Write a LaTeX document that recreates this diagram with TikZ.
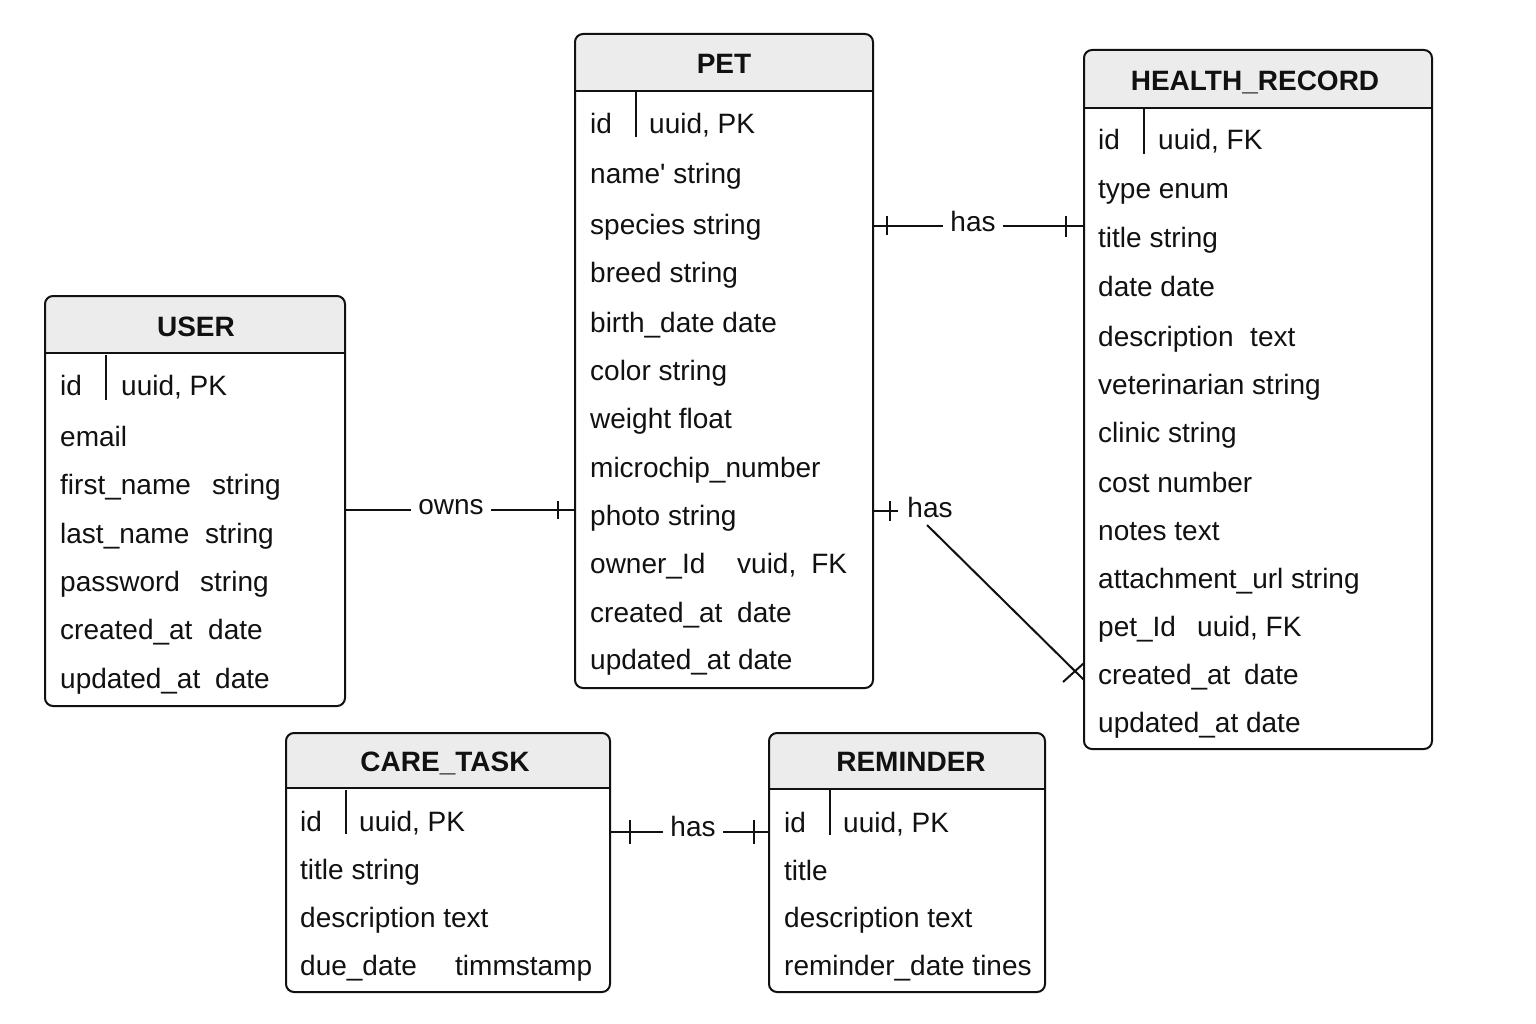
\documentclass[tikz,border=0pt]{standalone}
\usepackage{fontspec}
\setmainfont{Liberation Sans}
\newfontfamily\rawfont{Liberation Sans}
\usetikzlibrary{fit}
\definecolor{hdrgray}{HTML}{ECECEC}
\definecolor{ink}{HTML}{111111}
\tikzset{
  tblbox/.style={draw=ink, line width=2pt, rounded corners=8pt, inner sep=0pt, fill=none},
  tblline/.style={draw=ink, line width=2pt},
  sepline/.style={draw=ink, line width=2pt},
  fld/.style={anchor=west, inner sep=0pt, text height=20pt, text depth=0pt, text=ink, font=\fontsize{28}{34}\selectfont},
  ttl/.style={inner sep=0pt, text height=20pt, text depth=0pt, text=ink, font=\fontsize{28}{34}\selectfont\bfseries},
  rel/.style={inner xsep=7pt, inner ysep=2pt, text=ink, font=\fontsize{28}{34}\selectfont},
  conn/.style={draw=ink, line width=2pt},
  tick/.style={draw=ink, line width=2pt},
}
\newcommand{\erbox}[6]{%
  \coordinate (#1-a) at (#2,#3);
  \coordinate (#1-b) at (#4,#5);
  \begin{scope}
    \clip[rounded corners=8pt] (#2,#3) rectangle (#4,#5);
    \fill[hdrgray] (#2,#3) rectangle (#4,#6);
  \end{scope}
  \node[tblbox, fit=(#1-a)(#1-b)] (#1) {};
  \draw[tblline] (#2,#6) -- (#4,#6);
}
\begin{document}
\begin{tikzpicture}[x=1pt,y=-1pt]
\useasboundingbox (0,0) rectangle (1536,1024);
\fill[white] (0,0) rectangle (1536,1024);

% ---------- USER ----------
\erbox{user}{45}{296}{345}{706}{353}
\node[ttl] (user-t) at (196,326) {USER};
\draw[sepline] (106,355) -- (106,400);
\node[fld] (u1) at (60,385) {id};
\node[fld] (u1t) at (121,385) {uuid, PK};
\node[fld] (u2) at (60,436) {email};
\node[fld] (u3) at (60,484) {first\_name};
\node[fld] (u3t) at (212,484) {string};
\node[fld] (u4) at (60,533) {last\_name};
\node[fld] (u4t) at (205,533) {string};
\node[fld] (u5) at (60,581) {password};
\node[fld] (u5t) at (200,581) {string};
\node[fld] (u6) at (60,629) {created\_at};
\node[fld] (u6t) at (208,629) {date};
\node[fld] (u7) at (60,678) {updated\_at};
\node[fld] (u7t) at (215,678) {date};

% ---------- PET ----------
\erbox{pet}{575}{34}{873}{688}{91}
\node[ttl] (pet-t) at (724,64) {PET};
\draw[sepline] (636,92) -- (636,137);
\node[fld] (p1) at (590,124) {id};
\node[fld] (p1t) at (649,124) {uuid, PK};
\node[fld] (p2) at (590,174) {\rawfont name' string};
\node[fld] (p3) at (590,225) {species string};
\node[fld] (p4) at (590,273) {breed string};
\node[fld] (p5) at (590,322) {birth\_date date};
\node[fld] (p6) at (590,370) {color string};
\node[fld] (p7) at (590,418) {weight float};
\node[fld] (p8) at (590,467) {microchip\_number};
\node[fld] (p9) at (590,515) {photo string};
\node[fld] (p10) at (590,563) {owner\_Id};
\node[fld] (p10t) at (737,563) {vuid,\hspace{15pt}FK};
\node[fld] (p11) at (590,612) {created\_at};
\node[fld] (p11t) at (737,612) {date};
\node[fld] (p12) at (590,659) {updated\_at date};

% ---------- HEALTH_RECORD ----------
\erbox{hr}{1084}{50}{1432}{749}{108}
\node[ttl] (hr-t) at (1255,81) {HEALTH\_RECORD};
\draw[sepline] (1144,109) -- (1144,154);
\node[fld] (h1) at (1098,140) {id};
\node[fld] (h1t) at (1158,140) {uuid, FK};
\node[fld] (h2) at (1098,189) {type enum};
\node[fld] (h3) at (1098,238) {title string};
\node[fld] (h4) at (1098,287) {date date};
\node[fld] (h5) at (1098,336) {description};
\node[fld] (h5t) at (1250,336) {text};
\node[fld] (h6) at (1098,384) {veterinarian string};
\node[fld] (h7) at (1098,432) {clinic string};
\node[fld] (h8) at (1098,482) {cost number};
\node[fld] (h9) at (1098,530) {notes text};
\node[fld] (h10) at (1098,578) {attachment\_url string};
\node[fld] (h11) at (1098,626) {pet\_Id};
\node[fld] (h11t) at (1197,626) {uuid, FK};
\node[fld] (h12) at (1098,674) {created\_at};
\node[fld] (h12t) at (1244,674) {date};
\node[fld] (h13) at (1098,722) {updated\_at date};

% ---------- CARE_TASK ----------
\erbox{ct}{286}{733}{610}{992}{788}
\node[ttl] (ct-t) at (445,761) {CARE\_TASK};
\draw[sepline] (346,790) -- (346,834);
\node[fld] (c1) at (300,821) {id};
\node[fld] (c1t) at (359,821) {uuid, PK};
\node[fld] (c2) at (300,869) {title string};
\node[fld] (c3) at (300,917) {description text};
\node[fld] (c4) at (300,965) {due\_date};
\node[fld] (c4t) at (455,965) {timmstamp};

% ---------- REMINDER ----------
\erbox{rem}{769}{733}{1045}{992}{789}
\node[ttl] (rem-t) at (911,761) {REMINDER};
\draw[sepline] (830,790) -- (830,835);
\node[fld] (r1) at (784,822) {id};
\node[fld] (r1t) at (843,822) {uuid, PK};
\node[fld] (r2) at (784,870) {title};
\node[fld] (r3) at (784,917) {description text};
\node[fld] (r4) at (784,965) {reminder\_date tines};

% ---------- USER -- PET : owns ----------
\node[rel] (owns) at (451,507) {owns};
\draw[conn] (user.east |- 0,510) -- (owns.west |- 0,510);
\draw[conn] (owns.east |- 0,510) -- (pet.west |- 0,510);
\draw[tick] (558,501) -- (558,519);

% ---------- PET -- HEALTH_RECORD : has (top) ----------
\node[rel] (has1) at (973,221) {has};
\draw[conn] (pet.east |- 0,226) -- (has1.west |- 0,226);
\draw[conn] (has1.east |- 0,226) -- (hr.west |- 0,226);
\draw[tick] (887,216) -- (887,235);
\draw[tick] (1066,216) -- (1066,237);

% ---------- PET -- HEALTH_RECORD : has (diagonal) ----------
\node[rel] (has2) at (930,507) {has};
\coordinate (d0) at (898,511);
\coordinate (d1) at (927,525);
\coordinate (d2) at (1084,680);
\draw[conn] (pet.east |- 0,511) -- (d0);
\draw[tick] (890,501) -- (890,521);
\draw[conn] (d1) -- (d2);
\draw[tick] (1063,682) -- (1084,663);

% ---------- CARE_TASK -- REMINDER : has ----------
\node[rel] (has3) at (693,826) {has};
\draw[conn] (ct.east |- 0,832) -- (has3.west |- 0,832);
\draw[conn] (has3.east |- 0,832) -- (rem.west |- 0,832);
\draw[tick] (630,820) -- (630,844);
\draw[tick] (754,820) -- (754,844);
\end{tikzpicture}
\end{document}
